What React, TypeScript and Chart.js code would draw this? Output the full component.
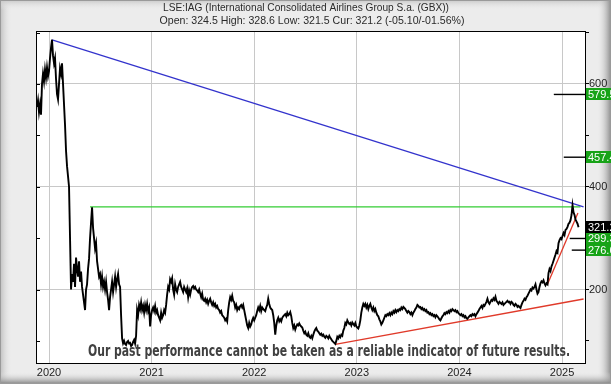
import React, { useEffect, useRef } from "react";
import { Chart, registerables } from "chart.js";

Chart.register(...registerables);

const TITLE = "LSE:IAG (International Consolidated Airlines Group S.a. (GBX))";
const SUBTITLE = "Open: 324.5 High: 328.6 Low: 321.5 Cur: 321.2 (-05.10/-01.56%)";
const DISCLAIMER = "Our past performance cannot be taken as a reliable indicator of future results.";

const yearTicks = [2020, 2021, 2022, 2023, 2024, 2025];
const priceTicks = [100, 200, 300, 400, 500, 600, 700];
const labelledPriceTicks = [200, 400, 600];

const xMin = 2019.883;
const xMax = 2025.224;
const yMin = 57;
const yMax = 701;

// price series, sampled every ~3.6 days starting late Nov 2019
const seriesStart = 2019.883;
const seriesStep = 0.009756;
const prices = [
  555, 568, 545, 560, 540, 600, 620, 605, 628, 612,
  632, 615, 625, 650, 670, 686, 655, 640, 650, 610,
  580, 570, 600, 630, 620, 640, 600, 560, 520, 470,
  440, 420, 400, 300, 200, 230, 215, 250, 205, 262,
  240, 225, 255, 215, 235, 205, 190, 175, 160, 200,
  210, 240, 260, 300, 330, 360, 320, 300, 280, 290,
  255, 240, 225, 230, 210, 225, 205, 215, 200, 215,
  195, 180, 160, 185, 200, 215, 195, 210, 225, 205,
  220, 230, 210, 205, 150, 105, 95, 100, 94, 92,
  98, 100, 95, 96, 90, 92, 98, 102, 95, 110,
  160, 150, 170, 162, 175, 160, 168, 155, 170, 160,
  172, 158, 165, 128, 150, 160, 165, 158, 168, 155,
  160, 150, 145, 140, 155, 145, 150, 160, 155, 170,
  190, 205, 200, 220, 215, 222, 200, 190, 210, 200,
  195, 205, 210, 215, 205, 200, 195, 205, 200, 195,
  202, 185, 198, 190, 200, 205, 207, 202, 205, 200,
  198, 195, 200, 192, 185, 192, 180, 178, 182, 175,
  180, 172, 178, 182, 175, 170, 175, 168, 172, 165,
  168, 162, 160, 155, 158, 150, 148, 145, 140, 143,
  138, 160, 175, 185, 180, 188, 178, 175, 165, 170,
  160, 165, 162, 168, 170, 165, 170, 160, 150, 140,
  130, 125, 135, 128, 132, 140, 145, 140, 145, 150,
  158, 165, 160, 168, 158, 165, 162, 160, 158, 165,
  170, 182, 172, 165, 162, 160, 150, 135, 112, 130,
  140, 145, 138, 142, 138, 145, 148, 150, 152, 148,
  155, 150, 152, 156, 148, 135, 125, 130, 122, 128,
  132, 130, 134, 130, 128, 126, 120, 115, 118, 112,
  110, 115, 108, 106, 110, 105, 112, 118, 122, 125,
  120, 118, 115, 112, 114, 110, 112, 108, 106, 110,
  108, 105, 110, 106, 103, 100, 98, 96, 94, 100,
  108, 105, 110, 107, 112, 110, 120, 125, 135, 132,
  140, 136, 133, 135, 130, 136, 133, 130, 135, 128,
  126, 124, 130, 140, 155, 165, 172, 168, 172, 165,
  170, 162, 168, 172, 165, 160, 165, 158, 162, 155,
  150, 148, 142, 138, 132, 135, 140, 145, 150, 148,
  152, 150, 154, 150, 155, 152, 158, 155, 160, 156,
  160, 158, 162, 160, 165, 162, 166, 164, 162, 158,
  155, 158, 156, 152, 155, 150, 155, 158, 162, 165,
  170, 168, 165, 166, 162, 164, 160, 162, 158, 160,
  155, 156, 152, 154, 150, 152, 148, 150, 146, 150,
  148, 145, 142, 140, 144, 148, 150, 154, 152, 156,
  154, 158, 155, 160, 158, 162, 160, 158, 160, 156,
  158, 154, 152, 150, 152, 148, 150, 146, 148, 144,
  143, 146, 148, 150, 148, 152, 150, 152, 148, 152,
  155, 158, 162, 165, 168, 164, 170, 168, 172, 176,
  182, 175, 172, 176, 180, 178, 183, 180, 186, 178,
  175, 172, 176, 174, 172, 175, 170, 172, 174, 176,
  178, 175, 176, 172, 176, 174, 170, 168, 172, 170,
  166, 168, 166, 164, 170, 175, 178, 182, 180, 185,
  188, 192, 196, 200, 198, 204, 202, 205, 210, 200,
  192, 195, 205, 212, 216, 214, 218, 212, 208, 212,
  210, 232, 240, 236, 245, 250, 256, 262, 268, 275,
  272, 290, 296, 300, 298, 304, 310, 306, 316, 318,
  322, 328, 330, 335, 345, 364, 350, 345, 336, 332,
  328, 321.2,
];

// trend lines (x in decimal years, y in pence)
const blueTrendX = [2020.03, 2025.21];
const blueTrendY = [685.7, 360.6];
const greenLineX = [2020.4, 2025.18];
const greenLineY = [360.6, 360.6];
const redLongX = [2022.79, 2025.21];
const redLongY = [93.3, 181.5];
const redShortX = [2024.855, 2025.155];
const redShortY = [208.8, 348.9];

// target levels
const levelValues = [579.5, 457.4, 299.3, 276.6];
const levelFrom = [2024.92, 2025.017, 2025.075, 2025.095];
const currentPrice = 321.2;

const FONT = "'Liberation Sans', Arial, Helvetica, sans-serif";

const framePlugin = {
  id: "frame",
  beforeDraw(chart: any) {
    const { ctx, width, height, chartArea } = chart;
    ctx.save();
    ctx.fillStyle = "#ececec";
    ctx.fillRect(0, 0, width, height);
    let g = ctx.createLinearGradient(0, 0, 12, 0);
    g.addColorStop(0, "rgba(190,190,190,1)");
    g.addColorStop(1, "rgba(236,236,236,0)");
    ctx.fillStyle = g;
    ctx.fillRect(0, 0, 12, height);
    g = ctx.createLinearGradient(0, 0, 0, 10);
    g.addColorStop(0, "rgba(200,200,200,1)");
    g.addColorStop(1, "rgba(236,236,236,0)");
    ctx.fillStyle = g;
    ctx.fillRect(0, 0, width, 10);
    g = ctx.createLinearGradient(width - 14, 0, width, 0);
    g.addColorStop(0, "rgba(236,236,236,0)");
    g.addColorStop(1, "rgba(140,140,140,1)");
    ctx.fillStyle = g;
    ctx.fillRect(width - 14, 0, 14, height);
    g = ctx.createLinearGradient(0, height - 12, 0, height);
    g.addColorStop(0, "rgba(236,236,236,0)");
    g.addColorStop(1, "rgba(130,130,130,1)");
    ctx.fillStyle = g;
    ctx.fillRect(0, height - 12, width, 12);
    ctx.strokeStyle = "#9a9a9a";
    ctx.lineWidth = 1;
    ctx.strokeRect(0.5, 0.5, width - 1, height - 1);

    ctx.fillStyle = "#ffffff";
    ctx.fillRect(chartArea.left, chartArea.top, chartArea.right - chartArea.left, chartArea.bottom - chartArea.top);

    ctx.fillStyle = "#2a2a2a";
    ctx.font = `11px ${FONT}`;
    ctx.textAlign = "center";
    ctx.textBaseline = "middle";
    ctx.fillText(TITLE, 306, 8, 286);
    ctx.fillText(SUBTITLE, 312, 21, 305);
    ctx.restore();
  },
  afterDraw(chart: any) {
    const { ctx, chartArea } = chart;
    const ys = chart.scales.y;
    ctx.save();
    ctx.strokeStyle = "#000";
    ctx.lineWidth = 1;
    ctx.strokeRect(chartArea.left - 0.5, chartArea.top - 0.5, chartArea.right - chartArea.left + 1, chartArea.bottom - chartArea.top + 1);
    ctx.beginPath();
    for (const t of priceTicks) {
      const y = Math.round(ys.getPixelForValue(t)) + 0.5;
      ctx.moveTo(chartArea.left, y);
      ctx.lineTo(chartArea.left + 3, y);
    }
    ctx.stroke();

    ctx.fillStyle = "#404040";
    ctx.font = `bold 15px 'Liberation Sans Narrow', 'DejaVu Sans Condensed', ${FONT}`;
    ctx.textAlign = "left";
    ctx.textBaseline = "middle";
    ctx.fillText(DISCLAIMER, 88, 352, 482);

    const boxes = levelValues.map((v) => ({ v, bg: "#17a317" }));
    boxes.push({ v: currentPrice, bg: "#000000" });
    ctx.font = `11px ${FONT}`;
    for (const b of boxes) {
      const y = ys.getPixelForValue(b.v);
      ctx.fillStyle = b.bg;
      ctx.fillRect(chartArea.right + 1, Math.round(y - 6), 30, 12);
      ctx.fillStyle = "#ffffff";
      ctx.fillText(b.v.toFixed(1), chartArea.right + 3, y + 0.5);
    }
    ctx.restore();
  },
};

export default function App() {
  const ref = useRef<HTMLCanvasElement | null>(null);

  useEffect(() => {
    document.body.style.margin = "0";
    const canvas = ref.current;
    if (!canvas) return;

    const priceData = prices.map((p, i) => ({ x: seriesStart + i * seriesStep, y: p }));
    const pair = (xs: number[], ys: number[]) => xs.map((x, i) => ({ x, y: ys[i] }));

    const levelSets = levelValues.map((v, i) => ({
      data: [
        { x: levelFrom[i], y: v },
        { x: xMax, y: v },
      ],
      borderColor: "#000000",
      borderWidth: 1.4,
      pointRadius: 0,
      fill: false,
    }));

    const chart = new Chart(canvas, {
      type: "line",
      data: {
        datasets: [
          { data: priceData, borderColor: "#000000", borderWidth: 1.9, pointRadius: 0, fill: false, tension: 0 },
          { data: pair(blueTrendX, blueTrendY), borderColor: "#3333cc", borderWidth: 1.3, pointRadius: 0, fill: false },
          { data: pair(greenLineX, greenLineY), borderColor: "#33cc33", borderWidth: 1.3, pointRadius: 0, fill: false },
          { data: pair(redLongX, redLongY), borderColor: "#e03a2a", borderWidth: 1.3, pointRadius: 0, fill: false },
          { data: pair(redShortX, redShortY), borderColor: "#e03a2a", borderWidth: 1.3, pointRadius: 0, fill: false },
          ...levelSets,
        ],
      },
      options: {
        animation: false,
        responsive: false,
        maintainAspectRatio: false,
        events: [],
        layout: { padding: { left: 37, top: 32, right: 0, bottom: 0 } },
        plugins: {
          legend: { display: false },
          tooltip: { enabled: false },
          title: { display: false },
        },
        scales: {
          x: {
            type: "linear",
            min: xMin,
            max: xMax,
            afterBuildTicks: (s: any) => {
              s.ticks = yearTicks.map((v) => ({ value: v }));
            },
            afterFit: (s: any) => {
              s.height = 21;
            },
            grid: { color: "#c8c8c8", lineWidth: 1, drawTicks: false },
            border: { display: false },
            ticks: {
              padding: 3,
              color: "#222",
              font: { family: FONT, size: 11 },
              maxRotation: 0,
              autoSkip: false,
              callback: (v: any) => String(v),
            },
          },
          y: {
            type: "linear",
            position: "right",
            min: yMin,
            max: yMax,
            afterBuildTicks: (s: any) => {
              s.ticks = priceTicks.map((v) => ({ value: v }));
            },
            afterFit: (s: any) => {
              s.width = 26;
            },
            grid: {
              color: (c: any) => (labelledPriceTicks.includes(c.tick?.value) ? "#c8c8c8" : "rgba(0,0,0,0)"),
              tickColor: "#000",
              tickLength: 4,
              drawTicks: true,
              lineWidth: 1,
            },
            border: { display: false },
            ticks: {
              padding: 0,
              color: "#222",
              font: { family: FONT, size: 11 },
              autoSkip: false,
              callback: (v: any) => (labelledPriceTicks.includes(v) ? String(v) : ""),
            },
          },
        },
      },
      plugins: [framePlugin],
    } as any);

    return () => chart.destroy();
  }, []);

  return <canvas ref={ref} width={611} height={384} style={{ display: "block" }} />;
}
